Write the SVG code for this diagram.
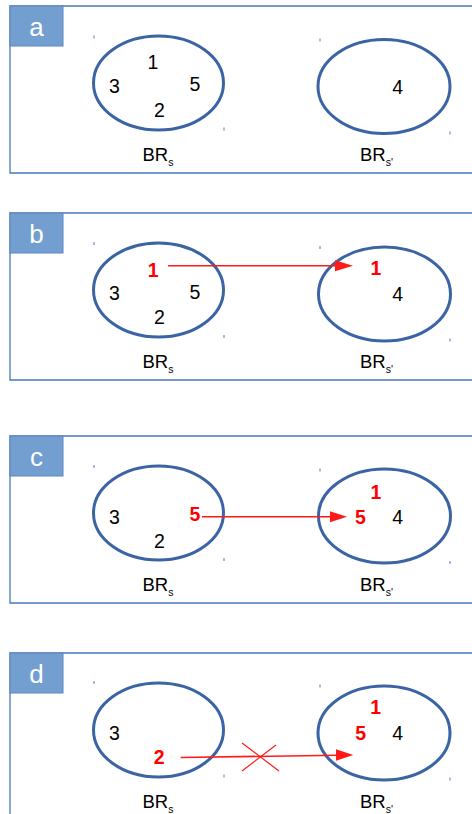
<svg xmlns="http://www.w3.org/2000/svg" width="472" height="814" viewBox="0 0 472 814">
<defs>
<style>
.frame{fill:none;stroke:#4a78bc;stroke-width:1.3}
.tab{fill:#729fcf;stroke:#5a86c2;stroke-width:1}
.tabt{font-family:"Liberation Sans",Arial,sans-serif;font-size:26px;fill:#ffffff;text-anchor:middle}
.ell{fill:none;stroke:#3b64a4;stroke-width:3}
.n{font-family:"Liberation Sans",Arial,sans-serif;font-size:19.5px;fill:#000000;text-anchor:middle}
.r{font-family:"Liberation Sans",Arial,sans-serif;font-size:19.5px;font-weight:bold;fill:#ff0000;text-anchor:middle}
.lbl{font-family:"Liberation Sans",Arial,sans-serif;font-size:18.5px;fill:#000000}
.sub{font-size:10.5px}
.tick{stroke:#4a7ac0;stroke-width:1}
.arr{stroke:#ff1a1a;stroke-width:1.6;fill:none}
.ah{fill:#ff1a1a}
.x{stroke:#ff1a1a;stroke-width:1.2}
</style>
</defs>

<g id="panel-a">
<path class="frame" d="M472 6 H10 V173 H472"/>
<rect class="tab" x="10" y="6" width="53" height="40"/>
<text class="tabt" x="36.5" y="35.5">a</text>
</g>
<g id="a-brs">
<ellipse class="ell" cx="158.5" cy="83" rx="65" ry="47"/>
<line class="tick" x1="94" y1="35.5" x2="94" y2="38.5"/><line class="tick" x1="224" y1="127.5" x2="224" y2="130.5"/>
<text class="n" x="153" y="69.3">1</text>
<text class="n" x="114.5" y="93.3">3</text>
<text class="n" x="195" y="91">5</text>
<text class="n" x="159.5" y="117.3">2</text>
<text class="lbl" x="142.5" y="161">BR<tspan class="sub" dy="5">s</tspan></text>
</g>
<g id="a-brs2">
<ellipse class="ell" cx="384" cy="86.5" rx="66" ry="47"/>
<line class="tick" x1="320" y1="38.5" x2="320" y2="41.5"/><line class="tick" x1="450" y1="131.5" x2="450" y2="134.5"/>
<text class="n" x="397.7" y="93.7">4</text>
<text class="lbl" x="360" y="161">BR<tspan class="sub" dy="5">s'</tspan></text>
</g>

<g id="panel-b">
<path class="frame" d="M472 213 H10 V380 H472"/>
<rect class="tab" x="10" y="213" width="53" height="40"/>
<text class="tabt" x="36.5" y="243">b</text>
</g>
<g id="b-brs">
<ellipse class="ell" cx="158.5" cy="290" rx="65" ry="47"/>
<line class="tick" x1="94" y1="242" x2="94" y2="245"/><line class="tick" x1="224" y1="335" x2="224" y2="338"/>
<text class="r" x="153.3" y="276.7">1</text>
<text class="n" x="114.5" y="300.3">3</text>
<text class="n" x="195" y="298.5">5</text>
<text class="n" x="159.5" y="324.3">2</text>
<text class="lbl" x="142.5" y="368.3">BR<tspan class="sub" dy="5">s</tspan></text>
</g>
<g id="b-brs2">
<ellipse class="ell" cx="384.5" cy="294" rx="66" ry="47"/>
<line class="tick" x1="320" y1="246" x2="320" y2="249"/><line class="tick" x1="450" y1="338.5" x2="450" y2="341.5"/>
<text class="r" x="376" y="275.3">1</text>
<text class="n" x="397.7" y="300.7">4</text>
<text class="lbl" x="360" y="368.3">BR<tspan class="sub" dy="5">s'</tspan></text>
</g>

<g id="panel-c">
<path class="frame" d="M472 436 H10 V603 H472"/>
<rect class="tab" x="10" y="436" width="53" height="40"/>
<text class="tabt" x="36.5" y="465.5">c</text>
</g>
<g id="c-brs">
<ellipse class="ell" cx="158.5" cy="513" rx="65" ry="47"/>
<line class="tick" x1="94" y1="465" x2="94" y2="468"/><line class="tick" x1="224" y1="558" x2="224" y2="561"/>
<text class="n" x="114.5" y="523.5">3</text>
<text class="r" x="195" y="520.5">5</text>
<text class="n" x="159.5" y="547.8">2</text>
<text class="lbl" x="142.5" y="591.3">BR<tspan class="sub" dy="5">s</tspan></text>
</g>
<g id="c-brs2">
<ellipse class="ell" cx="384.5" cy="516" rx="66" ry="47"/>
<line class="tick" x1="320" y1="468.5" x2="320" y2="471.5"/><line class="tick" x1="450" y1="561" x2="450" y2="564"/>
<text class="r" x="376" y="498.5">1</text>
<text class="r" x="360.5" y="524.3">5</text>
<text class="n" x="397.7" y="523.5">4</text>
<text class="lbl" x="360" y="591.3">BR<tspan class="sub" dy="5">s'</tspan></text>
</g>

<g id="panel-d">
<path class="frame" d="M472 653 H10 V820"/>
<rect class="tab" x="10" y="653" width="53" height="40"/>
<text class="tabt" x="36.5" y="682.5">d</text>
</g>
<g id="d-brs">
<ellipse class="ell" cx="158.5" cy="730" rx="65" ry="47"/>
<line class="tick" x1="94" y1="681" x2="94" y2="684"/><line class="tick" x1="224" y1="774.5" x2="224" y2="777.5"/>
<text class="n" x="114.5" y="739.5">3</text>
<text class="r" x="159.3" y="764.2">2</text>
<text class="lbl" x="142.5" y="808.3">BR<tspan class="sub" dy="5">s</tspan></text>
</g>
<g id="d-brs2">
<ellipse class="ell" cx="384" cy="733" rx="66" ry="47"/>
<line class="tick" x1="320" y1="684.5" x2="320" y2="687.5"/><line class="tick" x1="450" y1="777.5" x2="450" y2="780.5"/>
<text class="r" x="375.7" y="714.2">1</text>
<text class="r" x="360.7" y="740.2">5</text>
<text class="n" x="397.7" y="740.2">4</text>
<text class="lbl" x="360" y="808.3">BR<tspan class="sub" dy="5">s'</tspan></text>
</g>

<g id="connectors">
<line class="arr" x1="168" y1="265.7" x2="337" y2="265.7"/>
<polygon class="ah" points="353,265.7 335,260.2 335,271.2"/>
<line class="arr" x1="202" y1="516.7" x2="332" y2="516.7"/>
<polygon class="ah" points="347,516.7 330,511.2 330,522.2"/>
<line class="arr" x1="180.7" y1="757.5" x2="338" y2="755.2"/>
<polygon class="ah" points="353.3,755 336,749.3 336,760.7"/>
<line class="x" x1="242" y1="743" x2="279" y2="771"/>
<line class="x" x1="276" y1="745" x2="242" y2="771"/>
</g>
</svg>
